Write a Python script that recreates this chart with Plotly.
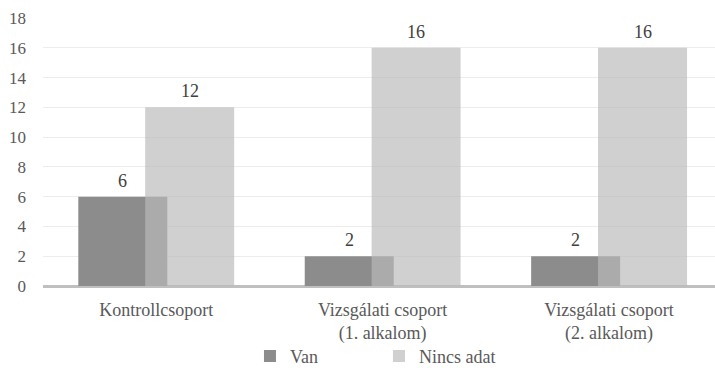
import plotly.graph_objects as go

# Chart data
categories = ["Kontrollcsoport", "Vizsgálati csoport<br>(1. alkalom)", "Vizsgálati csoport<br>(2. alkalom)"]
van_values = [6, 2, 2]
nincs_adat_values = [12, 16, 16]
y_ticks = [0, 2, 4, 6, 8, 10, 12, 14, 16, 18]

FONT = "Liberation Serif"
TEXT_COLOR = "#595959"

# Overlapping clustered bars: each bar spans ~0.393 of a category slot
BAR_W = 0.393
VAN_OFF = -0.344
NINCS_OFF = -0.0486

xpos = list(range(len(categories)))

fig = go.Figure()
fig.add_trace(go.Bar(
    name="Van", x=xpos, y=van_values,
    width=BAR_W, offset=VAN_OFF,
    marker=dict(color="#8c8c8c", line=dict(width=0)),
))
fig.add_trace(go.Bar(
    name="Nincs adat", x=xpos, y=nincs_adat_values,
    width=BAR_W, offset=NINCS_OFF,
    marker=dict(color="rgba(186,186,186,0.68)", line=dict(width=0)),
))

# Value labels above each bar
label_font = dict(family=FONT, size=18, color="#404040")
for i, v in enumerate(van_values):
    fig.add_annotation(x=i + VAN_OFF + BAR_W / 2, y=v, text=str(v), showarrow=False,
                       yanchor="bottom", yshift=4, font=label_font)
for i, v in enumerate(nincs_adat_values):
    fig.add_annotation(x=i + NINCS_OFF + BAR_W / 2, y=v, text=str(v), showarrow=False,
                       yanchor="bottom", yshift=4, font=label_font)

fig.update_layout(
    width=715, height=368,
    margin=dict(l=43, r=0, t=18, b=82, autoexpand=False),
    barmode="overlay",
    plot_bgcolor="white", paper_bgcolor="white",
    font=dict(family=FONT, size=17, color=TEXT_COLOR),
    showlegend=True,
    legend=dict(orientation="h", x=0.308, xanchor="left", y=-0.262, yanchor="middle",
                bgcolor="rgba(0,0,0,0)",
                font=dict(family=FONT, size=18, color=TEXT_COLOR),
                entrywidth=84, itemclick=False),
    xaxis=dict(
        range=[-0.5, 2.468], tickmode="array", tickvals=xpos, ticktext=categories,
        showgrid=False, zeroline=False, showline=False, ticks="", automargin=False,
        ticklabelstandoff=11,
        tickfont=dict(family=FONT, size=18, color=TEXT_COLOR),
    ),
    yaxis=dict(
        range=[0, 18], tickvals=y_ticks, showgrid=True, gridcolor="#ececec", gridwidth=1,
        zeroline=True, zerolinecolor="#bfbfbf", zerolinewidth=3, showline=False,
        ticks="", ticklabelstandoff=16, automargin=False,
        tickfont=dict(family=FONT, size=17, color=TEXT_COLOR),
    ),
)

fig.write_html("out.html")
